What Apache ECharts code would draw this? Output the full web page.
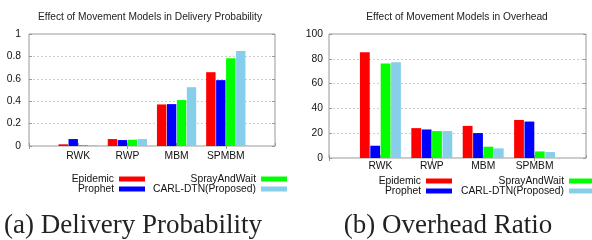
<!DOCTYPE html>
<html>
<head>
<meta charset="utf-8">
<script src="https://cdn.jsdelivr.net/npm/echarts@6/dist/echarts.min.js"></script>
<style>
  html, body { margin: 0; padding: 0; background: #fff; }
  #chart { width: 592px; height: 240px; }
</style>
</head>
<body>
<div id="chart"></div>
<script>
// gnuplot-style histogram: empty slot on each side of the four models
const categories = ["", "RWK", "RWP", "MBM", "SPMBM", ""];
const protocols = ["Epidemic", "Prophet", "SprayAndWait", "CARL-DTN(Proposed)"];
const colors = ["#ff0000", "#0000ff", "#00ff00", "#87ceeb"];

const deliveryEpidemic = [0.015, 0.062, 0.371, 0.659];
const deliveryProphet = [0.062, 0.053, 0.374, 0.588];
const deliverySpray = [0.009, 0.056, 0.41, 0.783];
const deliveryCarl = [0.009, 0.062, 0.525, 0.849];

const overheadEpidemic = [85.3, 24.1, 25.9, 30.7];
const overheadProphet = [9.9, 23.0, 20.1, 29.4];
const overheadSpray = [76.2, 21.7, 9.1, 5.3];
const overheadCarl = [77.3, 21.7, 7.8, 4.8];

const titles = ["Effect of Movement Models in Delivery Probability", "Effect of Movement Models in Overhead"];
const captions = ["(a) Delivery Probability", "(b) Overhead Ratio"];

const pad = (arr) => [null, ...arr, null];
const delivery = [deliveryEpidemic, deliveryProphet, deliverySpray, deliveryCarl];
const overhead = [overheadEpidemic, overheadProphet, overheadSpray, overheadCarl];

const frame = "#999";
const font = "Liberation Sans";

const xAxisBase = (gridIndex, margin) => ({
  type: "category",
  gridIndex,
  data: categories,
  boundaryGap: false,
  axisLine: { show: false },
  axisTick: { show: true, inside: true, length: 3, lineStyle: { color: frame } },
  axisLabel: { interval: 0, margin, color: "#111", fontSize: 10.3, fontFamily: font },
  splitLine: { show: false },
});

const xAxisTop = (gridIndex) => ({
  type: "category",
  gridIndex,
  position: "top",
  data: categories,
  boundaryGap: false,
  axisLine: { show: false },
  axisTick: { show: true, inside: true, length: 3, lineStyle: { color: frame } },
  axisLabel: { show: false },
  splitLine: { show: false },
});

const yAxisLeft = (gridIndex, max, interval, margin) => ({
  type: "value",
  gridIndex,
  min: 0,
  max,
  interval,
  axisLine: { show: false },
  axisTick: { show: true, inside: true, length: 3, lineStyle: { color: frame } },
  axisLabel: { margin, color: "#111", fontSize: 10.3, fontFamily: font },
  splitLine: { show: true, lineStyle: { color: "#cfcfcf", type: [2, 2] } },
});

const yAxisRight = (gridIndex, max, interval) => ({
  type: "value",
  gridIndex,
  position: "right",
  min: 0,
  max,
  interval,
  axisLine: { show: false },
  axisTick: { show: true, inside: true, length: 3, lineStyle: { color: frame } },
  axisLabel: { show: false },
  splitLine: { show: false },
});

const barSeries = (values, axisIndex, width) =>
  values.map((vals, i) => ({
    name: protocols[i],
    type: "bar",
    xAxisIndex: axisIndex,
    yAxisIndex: axisIndex,
    barWidth: width,
    barGap: "6%",
    data: pad(vals),
    itemStyle: { color: colors[i] },
    emphasis: { disabled: true },
  }));

const legendBox = (names, right, top) => ({
  data: names,
  orient: "vertical",
  align: "right",
  right,
  top,
  padding: 0,
  itemGap: 0,
  itemWidth: 26,
  itemHeight: 5,
  icon: "rect",
  selectedMode: false,
  textStyle: { fontSize: 10.3, lineHeight: 10, color: "#111", fontFamily: font },
});

const chart = echarts.init(document.getElementById("chart"), null, { renderer: "canvas" });
chart.setOption({
  animation: false,
  backgroundColor: "#fff",
  grid: [
    { left: 29, top: 34, width: 246, height: 112, show: true, borderColor: frame, borderWidth: 1, backgroundColor: "transparent" },
    { left: 329, top: 34, width: 257, height: 124, show: true, borderColor: frame, borderWidth: 1, backgroundColor: "transparent" },
  ],
  xAxis: [xAxisBase(0, 5), xAxisBase(1, 3), xAxisTop(0), xAxisTop(1)],
  yAxis: [yAxisLeft(0, 1, 0.2, 8), yAxisLeft(1, 100, 20, 6), yAxisRight(0, 1, 0.2), yAxisRight(1, 100, 20)],
  legend: [
    legendBox(protocols.slice(0, 2), 447, 174),
    legendBox(protocols.slice(2), 305, 174),
    legendBox(protocols.slice(0, 2), 140, 176),
    legendBox(protocols.slice(2), -3, 176),
  ],
  series: [...barSeries(delivery, 0, 9.4), ...barSeries(overhead, 1, 9.8)],
  graphic: [
    { type: "text", x: 150, y: 17, style: { text: titles[0], align: "center", verticalAlign: "middle", fontSize: 10.2, fontFamily: font, fill: "#222" } },
    { type: "text", x: 457, y: 17, style: { text: titles[1], align: "center", verticalAlign: "middle", fontSize: 10.2, fontFamily: font, fill: "#222" } },
    { type: "text", x: 133, y: 226, style: { text: captions[0], align: "center", verticalAlign: "middle", fontSize: 27, fontFamily: "Liberation Serif", fill: "#222" } },
    { type: "text", x: 448, y: 226, style: { text: captions[1], align: "center", verticalAlign: "middle", fontSize: 27, fontFamily: "Liberation Serif", fill: "#222" } },
  ],
});
</script>
</body>
</html>
